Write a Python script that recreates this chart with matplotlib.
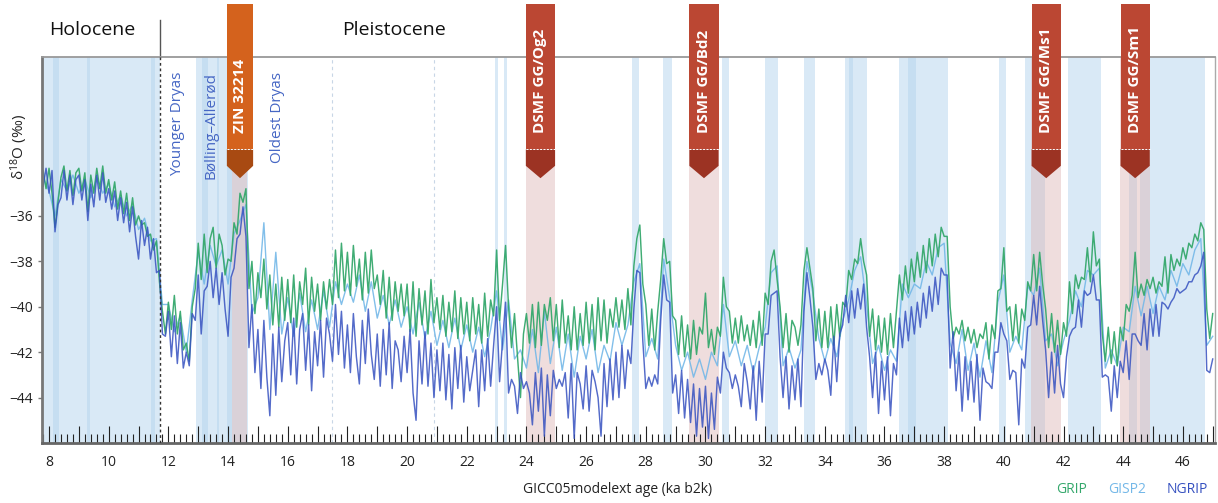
import matplotlib
matplotlib.use('Agg')
import matplotlib.pyplot as plt
import matplotlib.transforms as mtransforms
from matplotlib.patches import Polygon
from matplotlib.ticker import MultipleLocator, FuncFormatter, FixedLocator
import numpy as np

plt.rcParams['font.family'] = ['Open Sans', 'DejaVu Sans']
plt.rcParams['mathtext.fontset'] = 'custom'
plt.rcParams['mathtext.rm'] = 'Open Sans'
plt.rcParams['mathtext.default'] = 'regular'

# ages (ka b2k): GRIP / NGRIP every 0.1 ka, GISP2 every 0.2 ka
age_fine = np.round(np.arange(78, 471) * 0.1, 1)
age_gisp = np.round(np.arange(39, 236) * 0.2, 1)

grip = [
    -34.0, -34.8,
    -33.9, -35.0, -36.5, -35.4, -34.3, -33.8, -34.9, -34.0, -35.1, -34.1,  # 8
    -33.9, -34.9, -34.1, -35.8, -34.2, -35.0, -33.9, -34.8, -33.8, -35.0,  # 9
    -34.4, -35.3, -34.5, -35.7, -34.9, -35.9, -35.0, -36.2, -35.2, -36.4,  # 10
    -36.0, -36.4, -36.3, -36.9, -36.8, -37.5, -37.1, -38.9, -40.2, -41.2,  # 11
    -39.8, -41.0, -39.5, -41.2, -40.2, -41.9, -41.6, -42.4, -40.0, -39.2,  # 12
    -37.2, -38.8, -36.8, -38.5, -37.0, -36.5, -38.3, -36.8, -37.3, -38.6,  # 13
    -37.9, -38.0, -36.3, -36.8, -35.0, -35.4, -34.8, -39.2, -38.0, -40.3,  # 14
    -38.5, -39.6, -37.9, -40.1, -38.6, -40.8, -39.0, -40.9, -38.7, -40.6,  # 15
    -38.8, -40.7, -38.6, -40.9, -38.9, -39.9, -38.3, -40.8, -38.7, -40.2,  # 16
    -39.0, -40.6, -38.9, -40.1, -38.8, -39.9, -37.5, -39.6, -37.2, -39.3,  # 17
    -37.6, -39.5, -37.3, -39.1, -37.9, -39.7, -37.6, -39.4, -37.5, -39.2,  # 18
    -38.6, -39.9, -38.4, -40.5, -38.7, -40.6, -38.9, -40.2, -39.0, -40.4,  # 19
    -39.0, -41.1, -38.9, -41.3, -39.2, -40.8, -39.3, -41.2, -38.8, -40.7,  # 20
    -39.6, -41.0, -39.5, -41.3, -39.8, -41.1, -39.3, -41.4, -39.6, -41.2,  # 21
    -39.8, -41.5, -39.6, -41.2, -39.9, -41.6, -39.4, -41.3, -39.7, -40.4,  # 22
    -37.5, -40.6, -39.0, -37.3, -40.0, -41.8, -40.3, -42.2, -44.0, -41.2,  # 23
    -40.3, -41.6, -39.9, -41.8, -39.8, -41.7, -39.9, -40.6, -39.6, -41.5,  # 24
    -39.9, -41.8, -39.7, -41.6, -40.4, -41.9, -40.0, -41.9, -40.3, -41.7,  # 25
    -39.8, -41.6, -39.9, -41.9, -39.6, -41.5, -39.7, -41.6, -40.1, -40.9,  # 26
    -39.6, -40.9, -39.7, -41.0, -39.2, -40.8, -38.2, -37.0, -36.4, -39.0,  # 27
    -39.9, -41.7, -40.1, -41.9, -40.2, -38.8, -37.0, -38.1, -38.0, -40.4,  # 28
    -40.6, -42.1, -40.4, -42.2, -40.8, -42.3, -40.6, -42.1, -40.9, -41.2,  # 29
    -39.4, -41.8, -41.0, -42.1, -40.9, -41.3, -38.7, -40.0, -40.2, -41.6,  # 30
    -40.5, -41.6, -40.4, -41.5, -40.8, -41.7, -40.6, -41.8, -40.2, -41.7,  # 31
    -39.4, -39.9, -38.0, -37.5, -38.8, -40.0, -41.8, -40.3, -42.0, -40.6,  # 32
    -40.9, -41.7, -40.8, -38.4, -37.4, -38.3, -39.2, -41.5, -40.1, -41.8,  # 33
    -40.2, -41.8, -40.0, -41.7, -39.9, -41.3, -39.8, -40.0, -38.4, -38.8,  # 34
    -37.9, -38.1, -37.0, -38.0, -38.6, -41.3, -40.1, -41.9, -40.4, -42.0,  # 35
    -40.5, -42.1, -40.3, -41.8, -40.2, -38.6, -39.7, -38.2, -39.4, -37.9,  # 36
    -38.9, -37.6, -38.7, -37.3, -38.5, -37.0, -38.2, -36.8, -37.8, -36.5,  # 37
    -36.9, -36.9, -40.0, -41.4, -40.9, -41.2, -40.6, -41.5, -40.9, -41.6,  # 38
    -41.0, -41.8, -41.2, -41.4, -40.7, -42.3, -40.8, -41.4, -39.3, -39.2,  # 39
    -37.4, -40.2, -40.0, -41.5, -39.9, -41.6, -40.1, -40.6, -38.9, -39.3,  # 40
    -37.7, -39.3, -37.6, -39.0, -40.1, -41.8, -40.3, -42.0, -40.6, -42.1,  # 41
    -40.7, -41.3, -38.9, -40.3, -38.6, -39.2, -38.7, -38.8, -37.4, -38.9,  # 42
    -36.7, -38.2, -37.9, -41.2, -42.4, -40.9, -42.5, -41.1, -42.6, -40.9,  # 43
    -41.5, -39.9, -40.2, -39.5, -37.6, -39.6, -39.0, -39.5, -38.8, -39.2,  # 44
    -38.7, -39.4, -38.9, -39.1, -37.8, -39.4, -37.7, -38.4, -37.9, -38.2,  # 45
    -37.4, -37.9, -37.2, -37.4, -36.8, -37.1, -36.3, -36.6, -40.1, -41.4,  # 46
    -40.3,
]

ngrip = [
    -34.7, -33.9,
    -35.0, -34.0, -36.7, -35.5, -35.2, -34.0, -35.3, -34.2, -35.5, -34.4,  # 8
    -34.2, -35.3, -34.4, -36.2, -34.6, -35.6, -34.2, -35.3, -34.1, -35.4,  # 9
    -34.8, -35.7, -34.9, -36.2, -35.2, -36.3, -35.4, -36.7, -35.6, -36.9,  # 10
    -37.9, -36.2, -37.3, -36.5, -37.9, -37.0, -38.5, -38.4, -41.2, -41.3,  # 11
    -40.2, -42.2, -40.4, -42.5, -40.7, -42.7, -42.0, -42.6, -40.3, -40.6,  # 12
    -38.6, -41.2, -39.3, -39.1, -38.0, -39.6, -38.3, -39.9, -38.5, -40.1,  # 13
    -41.3, -38.7, -38.3, -37.0, -36.8, -35.6, -36.9, -41.8, -39.9, -42.9,  # 14
    -41.0, -43.6, -40.6, -43.1, -44.8, -41.2, -43.9, -40.9, -43.3, -41.5,  # 15
    -40.7, -43.0, -40.5, -43.4, -41.0, -40.3, -42.8, -40.8, -43.7, -41.1,  # 16
    -42.6, -40.6, -43.1, -40.5, -41.2, -42.4, -39.9, -42.1, -40.2, -42.7,  # 17
    -40.8, -42.9, -40.3, -42.2, -43.4, -40.6, -42.5, -40.1, -42.1, -43.2,  # 18
    -41.2, -43.5, -41.0, -43.0, -40.7, -43.6, -41.5, -41.9, -43.3, -41.3,  # 19
    -42.9, -41.0, -43.8, -45.0, -41.5, -43.4, -41.1, -43.5, -41.6, -44.0,  # 20
    -41.9, -43.7, -41.6, -44.1, -42.1, -44.5, -41.8, -43.6, -41.7, -44.2,  # 21
    -42.2, -43.7, -42.8, -41.9, -44.4, -41.9, -43.7, -41.4, -43.5, -41.7,  # 22
    -40.0, -43.3, -41.5, -39.8, -43.8, -43.2, -43.5, -44.7, -42.9, -43.6,  # 23
    -43.3, -43.8, -45.2, -42.9, -44.6, -42.7, -45.7, -43.0, -44.8, -42.8,  # 24
    -43.6, -43.2, -43.5, -42.9, -44.9, -42.5, -45.8, -42.9, -43.4, -44.5,  # 25
    -42.6, -44.6, -42.8, -43.3, -44.0, -45.7, -42.5, -44.4, -42.3, -44.1,  # 26
    -42.0, -44.0, -41.7, -43.6, -41.9, -42.5, -40.1, -38.4, -38.5, -41.5,  # 27
    -43.6, -43.1, -43.5, -43.0, -43.4, -40.6, -38.6, -39.7, -39.8, -43.8,  # 28
    -43.0, -44.7, -42.8, -44.9, -43.2, -45.1, -43.4, -45.7, -43.6, -45.3,  # 29
    -43.5, -45.8, -43.8, -45.4, -43.1, -43.8, -42.0, -42.7, -42.9, -43.6,  # 30
    -43.0, -43.5, -44.4, -42.5, -43.3, -44.5, -42.6, -45.0, -42.4, -44.2,  # 31
    -41.2, -41.2, -39.5, -39.4, -39.3, -42.2, -44.0, -42.2, -44.5, -42.6,  # 32
    -44.1, -42.3, -44.4, -40.2, -38.5, -39.6, -40.9, -43.2, -42.5, -43.0,  # 33
    -42.3, -42.8, -43.9, -41.3, -43.3, -41.2, -40.8, -39.5, -40.7, -39.3,  # 34
    -40.5, -39.2, -40.1, -39.0, -40.9, -42.2, -44.0, -42.0, -44.7, -42.4,  # 35
    -44.1, -42.2, -44.8, -42.5, -43.0, -40.5, -41.8, -40.2, -41.5, -40.0,  # 36
    -41.2, -39.8, -40.9, -39.4, -40.5, -39.1, -40.2, -38.7, -39.9, -38.3,  # 37
    -38.6, -38.6, -42.7, -41.1, -43.7, -42.0, -44.6, -42.2, -44.1, -42.4,  # 38
    -44.2, -42.1, -45.0, -42.7, -43.3, -43.4, -43.6, -42.0, -42.0, -40.7,  # 39
    -41.2, -41.5, -43.2, -42.8, -42.9, -45.2, -42.3, -42.7, -40.9, -40.8,  # 40
    -39.5, -40.8, -39.1, -40.6, -41.9, -44.0, -42.0, -43.8, -41.7, -43.4,  # 41
    -44.0, -42.2, -41.3, -41.0, -40.9, -39.7, -40.9, -39.3, -39.5, -39.4,  # 42
    -38.6, -39.7, -39.7, -43.1, -43.0, -43.1, -44.6, -42.6, -44.0, -42.4,  # 43
    -42.9, -41.5, -43.2, -41.2, -41.2, -41.5, -41.7, -40.3, -41.9, -40.1,  # 44
    -41.3, -39.9, -41.3, -39.8, -39.9, -40.1, -39.8, -39.6, -39.2, -39.4,  # 45
    -39.3, -39.2, -38.9, -38.9, -38.6, -38.5, -38.2, -37.6, -42.8, -42.9,  # 46
    -42.3,
]

gisp2 = [
    -34.3, -34.9, -36.0, -34.4, -34.9, -34.2,
    -35.0, -34.4, -35.2, -34.3, -35.0,  # 9
    -34.6, -35.6, -35.1, -36.0, -35.5,  # 10
    -36.6, -36.1, -37.1, -37.0, -39.9,  # 11
    -39.9, -41.1, -40.4, -42.0, -39.7,  # 12
    -37.6, -39.0, -37.3, -38.2, -37.5,  # 13
    -39.0, -36.8, -36.2, -35.5, -40.3,  # 14
    -39.6, -36.3, -41.0, -37.6, -41.2,  # 15
    -39.6, -41.3, -39.4, -41.1, -39.7,  # 16
    -41.0, -39.3, -40.9, -38.9, -39.9,  # 17
    -39.0, -39.8, -38.6, -40.2, -38.9,  # 18
    -40.5, -39.5, -40.8, -39.7, -40.9,  # 19
    -40.0, -41.2, -39.8, -41.4, -40.2,  # 20
    -41.7, -40.6, -41.8, -40.5, -41.9,  # 21
    -40.8, -42.0, -40.9, -42.2, -41.0,  # 22
    -39.3, -41.9, -39.7, -42.3, -41.9,  # 23
    -42.7, -41.0, -42.9, -40.2, -42.5,  # 24
    -40.9, -42.8, -41.2, -43.1, -41.3,  # 25
    -42.3, -41.0, -42.9, -41.7, -42.4,  # 26
    -40.7, -41.7, -40.8, -38.9, -38.1,  # 27
    -42.2, -41.4, -42.3, -37.9, -39.6,  # 28
    -41.7, -42.8, -42.0, -43.1, -42.3,  # 29
    -43.2, -42.0, -42.6, -39.9, -42.2,  # 30
    -41.5, -42.6, -41.7, -42.9, -41.8,  # 31
    -40.9, -38.5, -38.2, -42.6, -41.8,  # 32
    -42.7, -41.9, -38.0, -39.4, -41.4,  # 33
    -42.4, -41.4, -42.2, -40.6, -39.7,  # 34
    -38.4, -37.8, -39.9, -42.5, -41.7,  # 35
    -42.8, -41.9, -42.4, -39.0, -39.6,  # 36
    -39.0, -39.2, -38.0, -38.6, -37.4,  # 37
    -37.2, -41.6, -42.5, -41.0, -42.8,  # 38
    -41.6, -43.1, -41.5, -42.9, -39.8,  # 39
    -38.6, -42.0, -41.3, -41.9, -39.1,  # 40
    -39.5, -38.3, -41.5, -41.2, -42.6,  # 41
    -41.5, -40.6, -39.3, -40.0, -38.4,  # 42
    -38.6, -38.3, -42.7, -41.9, -42.6,  # 43
    -40.9, -41.1, -39.1, -40.4, -39.1,  # 44
    -40.3, -39.1, -39.7, -38.4, -39.1,  # 45
    -38.1, -38.6, -37.5, -37.0, -41.7,  # 46
    -41.3,
]

# Greenland interstadials / Holocene (start, end) in ka
gi_bands = [
    (7.7, 11.703), (8.13, 8.33), (9.27, 9.37), (11.42, 11.55),
    (12.92, 14.67), (13.13, 13.33), (13.64, 13.68), (13.97, 14.13),
    (22.95, 23.05), (23.25, 23.35), (27.55, 27.77), (28.57, 28.87),
    (30.55, 30.79), (32.0, 32.43), (33.3, 33.67), (34.68, 35.41),
    (34.8, 34.95), (36.5, 38.13), (36.8, 37.06), (39.83, 40.07),
    (40.7, 41.38), (42.15, 43.25), (44.2, 44.46), (44.56, 46.74),
]

# specimen markers: label, centre age, band start, band end, kind
markers = [
    ('ZIN 32214', 14.40, 14.13, 14.64, 'zin'),
    ('DSMF GG/Og2', 24.47, 23.98, 24.96, 'dsmf'),
    ('DSMF GG/Bd2', 29.95, 29.45, 30.45, 'dsmf'),
    ('DSMF GG/Ms1', 41.42, 40.91, 41.92, 'dsmf'),
    ('DSMF GG/Sm1', 44.40, 43.90, 44.90, 'dsmf'),
]

periods = [('Younger Dryas', 12.29), ('Bølling–Allerød', 13.43), ('Oldest Dryas', 15.67)]

c_grip = '#35a86c'
c_gisp = '#74b8e8'
c_ngrip = '#3651c0'

fig = plt.figure(figsize=(12.18, 5.03), dpi=100)
ax = fig.add_axes([0.0345, 0.1193, 0.963, 0.7674])

for a, b in gi_bands:
    ax.axvspan(a, b, color='#b5d4ee', alpha=0.5, lw=0, zorder=0)
for name, xc, a, b, kind in markers:
    ax.axvspan(a, b, color='#dcb4b4', alpha=0.45, lw=0, zorder=0)

for xv in (17.5, 20.9):
    ax.axvline(xv, color='#c8d6e6', lw=0.8, ls=(0, (3, 3)), zorder=0.5)

ax.plot(age_gisp, gisp2, color=c_gisp, lw=1.0, alpha=0.9, zorder=2)
ax.plot(age_fine, grip, color=c_grip, lw=1.05, alpha=0.95, zorder=2.1)
ax.plot(age_fine, ngrip, color=c_ngrip, lw=1.05, alpha=0.85, zorder=2.2)

ax.axvline(11.703, color='#333333', lw=1.0, ls=(0, (2, 2)), zorder=3)

ax.set_xlim(7.765, 47.075)
ax.set_ylim(-46, -29)

ax.xaxis.set_major_locator(MultipleLocator(1))
ax.xaxis.set_minor_locator(MultipleLocator(0.2))
ax.xaxis.set_major_formatter(FuncFormatter(
    lambda v, p: f'{v:.0f}' if int(round(v)) % 2 == 0 else ''))
ax.tick_params(axis='x', which='major', direction='in', length=12, width=0.8,
               color='#222222', labelcolor='#222222', labelsize=10, pad=9)
ax.tick_params(axis='x', which='minor', direction='in', length=6.5, width=0.8,
               color='#222222')
ax.yaxis.set_major_locator(FixedLocator([-44, -42, -40, -38, -36]))
ax.tick_params(axis='y', which='major', direction='out', length=3, width=1,
               color='#777777', labelcolor='#222222', labelsize=10)

ax.spines['left'].set_color('#777777')
ax.spines['left'].set_linewidth(2)
ax.spines['bottom'].set_color('#666666')
ax.spines['bottom'].set_linewidth(2)
ax.spines['top'].set_color('#999999')
ax.spines['top'].set_linewidth(1.3)
ax.spines['right'].set_color('#aaaaaa')
ax.spines['right'].set_linewidth(1)

ax.set_ylabel(r'δ$^{18}$O (‰)', fontsize=11, color='#222222')
ax.yaxis.set_label_coords(-0.010, 0.767)

trans = mtransforms.blended_transform_factory(ax.transData, ax.transAxes)

# epoch header
ax.plot([11.703, 11.703], [1.0, 1.096], transform=trans, color='#555555',
        lw=1, clip_on=False)
fig.text(0.0755, 0.940, 'Holocene', fontsize=14, ha='center', va='center', color='#111111')
fig.text(0.3235, 0.940, 'Pleistocene', fontsize=14, ha='center', va='center', color='#111111')

for label, xv in periods:
    ax.text(xv, 0.961, label, transform=trans, rotation=90, rotation_mode='anchor',
            ha='right', va='center', fontsize=11, color='#4566c4', zorder=6)

for name, xc, a, b, kind in markers:
    main = '#d4621d' if kind == 'zin' else '#bb4733'
    dark = '#a84a12' if kind == 'zin' else '#9c3323'
    hw = 0.44 if kind == 'zin' else 0.49
    x0, x1 = xc - hw, xc + hw
    top_part = Polygon([(x0, 0.761), (x1, 0.761), (x1, 1.137), (x0, 1.137)],
                       closed=True, transform=trans, color=main, lw=0,
                       clip_on=False, zorder=5)
    low_part = Polygon([(x0, 0.761), (x1, 0.761), (x1, 0.718), (xc, 0.686), (x0, 0.718)],
                       closed=True, transform=trans, color=dark, lw=0,
                       clip_on=False, zorder=5)
    ax.add_patch(top_part)
    ax.add_patch(low_part)
    ax.plot([x0, x1], [0.761, 0.761], transform=trans, color='white', lw=0.7,
            ls=(0, (2, 1.5)), clip_on=False, zorder=5.5)
    ax.text(xc, 0.803, name, transform=trans, rotation=90, rotation_mode='anchor',
            ha='left', va='center', fontsize=11, fontweight='bold', color='white',
            clip_on=False, zorder=6)

fig.text(0.507, 0.026, 'GICC05modelext age (ka b2k)', fontsize=10, ha='center',
         va='center', color='#222222')
fig.text(0.880, 0.026, 'GRIP', fontsize=10, ha='center', va='center', color=c_grip)
fig.text(0.925, 0.026, 'GISP2', fontsize=10, ha='center', va='center', color=c_gisp)
fig.text(0.9745, 0.026, 'NGRIP', fontsize=10, ha='center', va='center', color=c_ngrip)

fig.savefig('out.png', dpi=100)
